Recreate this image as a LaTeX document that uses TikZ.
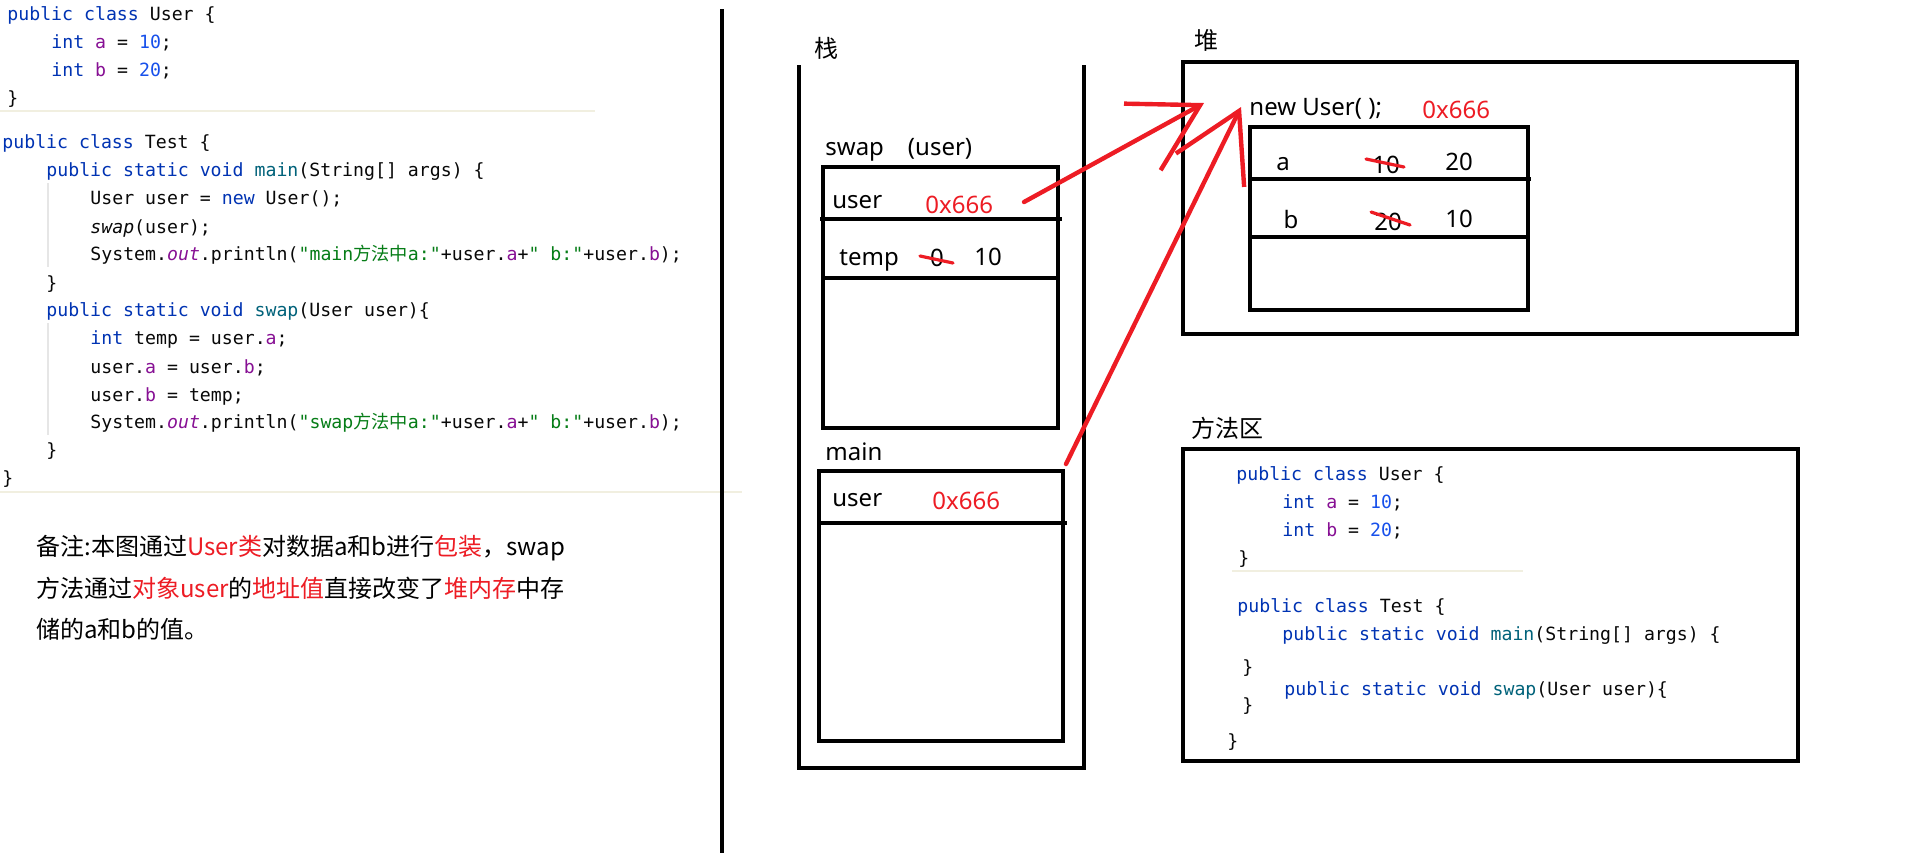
\documentclass[tikz,border=0pt]{standalone}
\usepackage{fontspec}
\setmainfont{Noto Sans}
\setmonofont{DejaVu Sans Mono}
\newfontfamily\cjk{Noto Sans CJK SC}
\usetikzlibrary{arrows.meta,calc}

\definecolor{ink}{HTML}{ED1C24}
\definecolor{kwblue}{HTML}{0033B3}
\definecolor{numblue}{HTML}{1750EB}
\definecolor{fieldpurple}{HTML}{871094}
\definecolor{strgreen}{HTML}{067D17}
\definecolor{methteal}{HTML}{00627A}
\definecolor{codeink}{HTML}{080808}
\definecolor{sepgray}{HTML}{F1EFE0}
\definecolor{guidegray}{HTML}{E6E6E6}

\newcommand{\codefont}{\ttfamily\fontsize{9.1pt}{11pt}\selectfont}
\newcommand{\kwd}[1]{\textcolor{kwblue}{#1}}
\newcommand{\numc}[1]{\textcolor{numblue}{#1}}
\newcommand{\fld}[1]{\textcolor{fieldpurple}{#1}}
\newcommand{\strc}[1]{\textcolor{strgreen}{#1}}
\newcommand{\mth}[1]{\textcolor{methteal}{#1}}
\newcommand{\redc}[1]{\textcolor{ink}{#1}}

\tikzset{
  codeline/.style={anchor=west, inner sep=0pt, font=\codefont, text=codeink, text height=6.6pt, text depth=0pt},
  lbl/.style={anchor=west, inner sep=0pt, font=\fontsize{12pt}{14pt}\selectfont, text height=8.6pt, text depth=0pt},
  val/.style={lbl, anchor=center},
  areatitle/.style={inner sep=0pt, font=\cjk\fontsize{12pt}{14pt}\selectfont},
  memo/.style={anchor=west, inner sep=0pt, font=\cjk\fontsize{12pt}{14pt}\selectfont, text height=8.6pt, text depth=0pt},
  frameline/.style={line width=2.2pt},
  codesep/.style={draw=sepgray, line width=0.6pt},
  indentguide/.style={draw=guidegray, line width=0.6pt},
  strike/.style={draw=ink, line width=1.6pt, line cap=round},
  ref/.style={draw=ink, line width=2.2pt, line cap=round, -{Straight Barb[length=33pt,width=38pt,line width=2.2pt]}}
}

\begin{document}
\begin{tikzpicture}[x=0.5pt,y=-0.5pt]
\fill[white] (0,0) rectangle (1914,853);
\path[use as bounding box] (0,0) rectangle (1914,853);

%koda levo
\node[codeline] (l1) at (7,14) {\kwd{public class} User \{};
\node[codeline] (l2) at (51,42) {\kwd{int} \fld{a} = \numc{10};};
\node[codeline] (l3) at (51,70) {\kwd{int} \fld{b} = \numc{20};};
\node[codeline] (l4) at (7,98) {\}};
\draw[codesep] (0,111) -- (595,111);
\node[codeline] (l5) at (2,142) {\kwd{public class} Test \{};
\node[codeline] (l6) at (46,170) {\kwd{public static void} \mth{main}(String[] args) \{};
\node[codeline] (l7) at (90,198) {User user = \kwd{new} User();};
\node[codeline] (l8) at (90,227) {\textit{swap}(user);};
\node[codeline] (l9) at (90,254) {System.\fld{\textit{out}}.println(\strc{"main{\cjk 方法中}a:"}+user.\fld{a}+\strc{" b:"}+user.\fld{b});};
\node[codeline] (l10) at (46,283) {\}};
\node[codeline] (l11) at (46,310) {\kwd{public static void} \mth{swap}(User user)\{};
\node[codeline] (l12) at (90,338) {\kwd{int} temp = user.\fld{a};};
\node[codeline] (l13) at (90,367) {user.\fld{a} = user.\fld{b};};
\node[codeline] (l14) at (90,395) {user.\fld{b} = temp;};
\node[codeline] (l15) at (90,422) {System.\fld{\textit{out}}.println(\strc{"swap{\cjk 方法中}a:"}+user.\fld{a}+\strc{" b:"}+user.\fld{b});};
\node[codeline] (l16) at (46,450) {\}};
\node[codeline] (l17) at (2,478) {\}};
\draw[indentguide] (48,183) -- (48,267);
\draw[indentguide] (48,323) -- (48,435);
\draw[codesep] (0,492) -- (742,492);

%opomba
\node[memo] (note1) at (36,547) {备注:本图通过\redc{User类}对数据a和b进行\redc{包装}，swap};
\node[memo] (note2) at (36,589) {方法通过\redc{对象user}的\redc{地址值}直接改变了\redc{堆内存}中存};
\node[memo] (note3) at (36,630) {储的a和b的值。};

\draw[line width=2.2pt] (722,9) -- (722,853);

%sklad
\node[areatitle] (stacklbl) at (826,48) {栈};
\draw[frameline] (799,65) -- (799,768) -- (1084,768) -- (1084,65);
\node[lbl] (swaplbl) at (825,147) {swap\hspace{12pt}(user)};
\draw[frameline] (823,167) rectangle (1058,428);
\draw[frameline] (820,219) -- (1062,219);
\draw[frameline] (823,278) -- (1058,278);
\node[lbl] (swapuser) at (832,200) {user};
\node[lbl, text=ink] (swapaddr) at (925,205) {0x666};
\node[lbl] (templbl) at (839,257) {temp};
\node[val] (tempold) at (937,258) {0};
\node[val] (tempnew) at (988,257) {10};
\draw[strike] ($(tempold)+(-17,-2)$) -- ($(tempold)+(16,5)$);

\node[lbl] (mainlbl) at (825,452) {main};
\draw[frameline] (819,471) rectangle (1063,741);
\draw[frameline] (819,523) -- (1067,523);
\node[lbl] (mainuser) at (832,498) {user};
\node[lbl, text=ink] (mainaddr) at (932,501) {0x666};

%kopica
\node[areatitle] (heaplbl) at (1206,40) {堆};
\draw[frameline] (1183,62) rectangle (1797,334);
\node[lbl] (newobj) at (1249,107) {new User( );};
\node[lbl, text=ink] (objaddr) at (1422,110) {0x666};
\draw[frameline] (1250,127) rectangle (1528,310);
\draw[frameline] (1250,179) -- (1531,179);
\draw[frameline] (1250,237) -- (1528,237);
\node[val] (fa) at (1283,162) {a};
\node[val] (faold) at (1386,165) {10};
\node[val] (fanew) at (1459,162) {20};
\node[val] (fb) at (1291,220) {b};
\node[val] (fbold) at (1388,222) {20};
\node[val] (fbnew) at (1459,219) {10};
\draw[strike] ($(faold)+(-20,-6)$) -- ($(faold)+(18,2)$);
\draw[strike] ($(fbold)+(-17,-10)$) -- ($(fbold)+(22,3)$);

%kazalca
\coordinate (swapref) at (1024,202);
\coordinate (mainref) at (1066,464);
\coordinate (hit) at (1204,103);
\draw[ref] (swapref) -- (hit);
\draw[ref] (mainref) -- ([xshift=-4pt]newobj.west);

%obmocje metod
\node[areatitle] (methodlbl) at (1227,428) {方法区};
\draw[frameline] (1183,449) rectangle (1798,761);
\node[codeline] (m1) at (1236,474) {\kwd{public class} User \{};
\node[codeline] (m2) at (1282,502) {\kwd{int} \fld{a} = \numc{10};};
\node[codeline] (m3) at (1282,530) {\kwd{int} \fld{b} = \numc{20};};
\node[codeline] (m4) at (1238,558) {\}};
\draw[codesep] (1232,571) -- (1523,571);
\node[codeline] (m5) at (1237,606) {\kwd{public class} Test \{};
\node[codeline] (m6) at (1282,634) {\kwd{public static void} \mth{main}(String[] args) \{};
\node[codeline] (m7) at (1242,667) {\}};
\node[codeline] (m8) at (1284,689) {\kwd{public static void} \mth{swap}(User user)\{};
\node[codeline] (m9) at (1242,705) {\}};
\node[codeline] (m10) at (1227,741) {\}};

\end{tikzpicture}
\end{document}
